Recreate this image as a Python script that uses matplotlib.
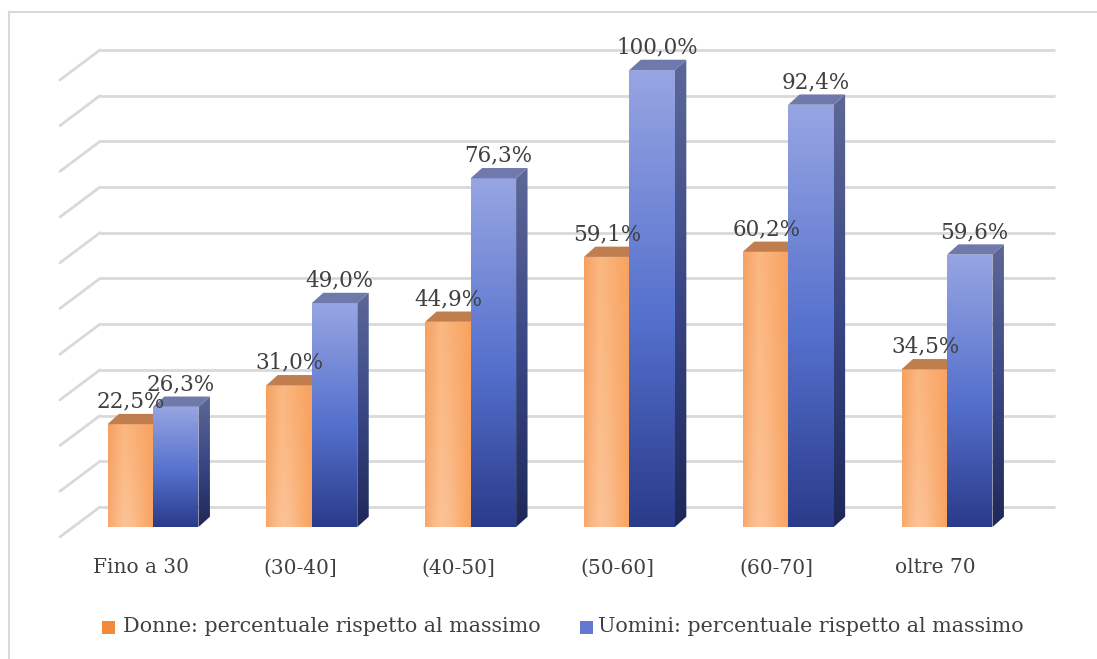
import numpy as np
import matplotlib
matplotlib.use("Agg")
import matplotlib.pyplot as plt
from matplotlib.patches import Polygon, Rectangle
from matplotlib.lines import Line2D
from matplotlib.colors import to_rgb

# ---- data -------------------------------------------------------------
categories = ["Fino a 30", "(30-40]", "(40-50]", "(50-60]", "(60-70]", "oltre 70"]
donne = [22.5, 31.0, 44.9, 59.1, 60.2, 34.5]
uomini = [26.3, 49.0, 76.3, 100.0, 92.4, 59.6]
grid_values = list(range(0, 101, 10))
legend_labels = ["Donne: percentuale rispetto al massimo",
                 "Uomini: percentuale rispetto al massimo"]

# ---- geometry of the pseudo-3D view (data units) ----------------------
BAR_W = 0.2865          # width of one bar (category spacing = 1)
DEPTH_X, DEPTH_Y = 0.072, 2.25     # bar depth offset
WALL_X, WALL_Y = 0.17, 4.38        # back wall offset from bar front plane
FLOOR_X, FLOOR_Y = 0.252, 6.56     # slant of the side wall lines
WALL_LEFT = -0.334
WALL_RIGHT = 5.68

TEXT = "#404040"
GRID = "#d9d9d9"
FONT = "DejaVu Serif"

fig = plt.figure(figsize=(10.97, 6.59), dpi=100)
ax = fig.add_axes([0, 0, 1, 1])
ax.set_axis_off()
XLIM = (-153 / 158.8, (1097 - 153) / 158.8)
YLIM = ((527 - 659) / 4.57, 527 / 4.57)


def lerp_colors(stops, t):
    """Piecewise-linear colour ramp; stops = [(pos, color), ...]."""
    pos = np.array([p for p, _ in stops])
    cols = np.array([to_rgb(c) for _, c in stops])
    out = np.empty(t.shape + (3,))
    for k in range(3):
        out[..., k] = np.interp(t, pos, cols[:, k])
    return out


def gradient_patch(verts, img, zorder):
    xs = [v[0] for v in verts]
    ys = [v[1] for v in verts]
    poly = Polygon(verts, closed=True, facecolor="none", edgecolor="none",
                   zorder=zorder)
    ax.add_patch(poly)
    im = ax.imshow(img, extent=(min(xs), max(xs), min(ys), max(ys)),
                   origin="lower", aspect="auto", interpolation="bilinear",
                   zorder=zorder)
    im.set_clip_path(poly)


# ---- back wall gridlines and side wall slants -------------------------
for v in grid_values:
    yb = v + WALL_Y
    ax.plot([WALL_LEFT, WALL_RIGHT], [yb, yb], color=GRID, lw=2.0,
            solid_capstyle="butt", zorder=1)
    ax.plot([WALL_LEFT - FLOOR_X, WALL_LEFT], [yb - FLOOR_Y, yb], color=GRID,
            lw=2.0, solid_capstyle="round", zorder=1)

# ---- gradient images --------------------------------------------------
ny, nx = 120, 60
gx = np.linspace(0, 1, nx)[None, :].repeat(ny, 0)
gy = np.linspace(0, 1, ny)[:, None].repeat(nx, 1)   # 0 bottom, 1 top

orange_base = lerp_colors([(0, "#f6a162"), (0.35, "#fbb882"), (1, "#f8a25f")], gx)
hl = np.exp(-((gx - 0.4) / 0.35) ** 2) * (1 - gy) ** 1.2
orange_img = orange_base * (1 - 0.55 * hl[..., None]) + \
    np.array(to_rgb("#fdcba6")) * 0.55 * hl[..., None]

blue_front_img = lerp_colors([(0, "#2a3b8a"), (0.45, "#5470cd"),
                              (1, "#97a5e2")], gy)
blue_side_img = lerp_colors([(0, "#1e2858"), (0.5, "#3a4785"),
                             (1, "#5d6898")], gy)

# ---- bars -------------------------------------------------------------
for i, (d, u) in enumerate(zip(donne, uomini)):
    # orange bar (front face and top)
    x0, x1 = i - BAR_W, i
    gradient_patch([(x0, 0), (x1, 0), (x1, d), (x0, d)], orange_img, 3)
    ax.add_patch(Polygon([(x0, d), (x1, d), (x1 + DEPTH_X, d + DEPTH_Y),
                          (x0 + DEPTH_X, d + DEPTH_Y)], closed=True,
                         facecolor="#c07d4e", edgecolor="none", zorder=3))

    # blue bar (front, side and top)
    b0, b1 = i, i + BAR_W
    gradient_patch([(b0, 0), (b1, 0), (b1, u), (b0, u)], blue_front_img, 4)
    gradient_patch([(b1, 0), (b1 + DEPTH_X, DEPTH_Y),
                    (b1 + DEPTH_X, u + DEPTH_Y), (b1, u)], blue_side_img, 4)
    ax.add_patch(Polygon([(b0, u), (b1, u), (b1 + DEPTH_X, u + DEPTH_Y),
                          (b0 + DEPTH_X, u + DEPTH_Y)], closed=True,
                         facecolor="#6f79ab", edgecolor="none", zorder=4))

    # value labels
    ax.text(i - BAR_W / 2 + 0.005, d + 3.6, f"{d:.1f}%".replace(".", ","),
            ha="center", va="baseline", fontsize=15.5, family=FONT,
            color=TEXT, zorder=6)
    ax.text(i + BAR_W / 2 + 0.03, u + 3.6, f"{u:.1f}%".replace(".", ","),
            ha="center", va="baseline", fontsize=15.5, family=FONT,
            color=TEXT, zorder=6)

    # category labels
    ax.text(i - 0.075, -8.97, categories[i], ha="center", va="center",
            fontsize=14.5, family=FONT, color=TEXT, zorder=6)

ax.set_xlim(*XLIM)
ax.set_ylim(*YLIM)

# ---- legend -----------------------------------------------------------
leg_y = 1 - 627 / 659
for (sx, tx), lab, col in zip([(102, 123), (580, 598)], legend_labels,
                              ["#f2883a", "#6378d3"]):
    fig.patches.append(Rectangle((sx / 1097, 1 - 634 / 659), 13 / 1097,
                                 13 / 659, transform=fig.transFigure,
                                 facecolor=col, edgecolor="none"))
    fig.text(tx / 1097, leg_y, lab, ha="left", va="center", fontsize=14.9,
             family=FONT, color=TEXT)

# ---- thin frame on top and left edges ---------------------------------
fig.lines.append(Line2D([9 / 1097, 1], [1 - 12 / 659, 1 - 12 / 659],
                        transform=fig.transFigure, color=GRID, lw=1.5))
fig.lines.append(Line2D([9 / 1097, 9 / 1097], [0, 1 - 12 / 659],
                        transform=fig.transFigure, color=GRID, lw=1.5))

fig.savefig("out.png", dpi=100, facecolor="white")
